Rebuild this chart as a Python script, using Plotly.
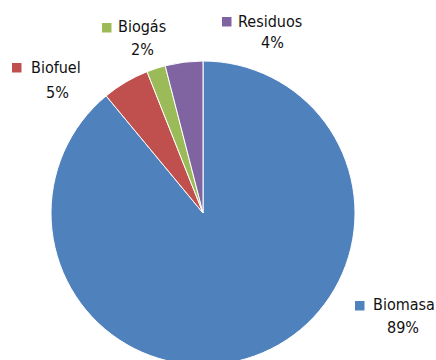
import plotly.graph_objects as go

categories = ["Biomasa", "Biofuel", "Biogás", "Residuos"]
values = [89, 5, 2, 4]
pct_labels = ["89%", "5%", "2%", "4%"]
colors = ["#4F81BD", "#C0504D", "#9BBB59", "#8064A2"]

W, H = 436, 430
FONT = "DejaVu Sans Condensed, sans-serif"

def px(x):
    return x / W

def py(y):
    return (H - y) / H

cx, cy, r = 203, 213, 152

fig = go.Figure(go.Pie(
    labels=categories, values=values, sort=False, direction="clockwise",
    rotation=0, textinfo="none", hoverinfo="label+percent",
    marker=dict(colors=colors, line=dict(color="white", width=1)),
    domain=dict(x=[px(cx - r), px(cx + r)], y=[py(cy + r), py(cy - r)]),
    showlegend=False,
))

# label layout: (square x0, square y0, name x left, name y center, pct x center, pct y center)
label_pos = {
    "Biomasa": (355, 301, 371, 305, 403, 327),
    "Biofuel": (12, 63, 29, 68, 57, 92),
    "Biogás": (102, 23, 116, 27, 142, 50),
    "Residuos": (222, 17, 236, 21, 272, 43),
}

shapes = []
annotations = []
for cat, pct, col in zip(categories, pct_labels, colors):
    sx, sy, nx, ny, pxx, pyy = label_pos[cat]
    shapes.append(dict(type="rect", xref="paper", yref="paper",
                       x0=px(sx), x1=px(sx + 9.5), y0=py(sy + 9.5), y1=py(sy),
                       fillcolor=col, line=dict(width=0)))
    annotations.append(dict(text=cat, x=px(nx), y=py(ny), xref="paper", yref="paper",
                            xanchor="left", yanchor="middle", showarrow=False,
                            font=dict(family=FONT, size=16, color="#111111")))
    annotations.append(dict(text=pct, x=px(pxx), y=py(pyy), xref="paper", yref="paper",
                            xanchor="center", yanchor="middle", showarrow=False,
                            font=dict(family=FONT, size=16, color="#111111")))

fig.update_layout(
    width=W, height=H,
    margin=dict(l=0, r=0, t=0, b=0),
    paper_bgcolor="white", plot_bgcolor="white",
    shapes=shapes, annotations=annotations,
)

fig.write_html("out.html", post_script="document.body.style.overflow='hidden';document.documentElement.style.overflow='hidden';document.body.style.margin='0';")
